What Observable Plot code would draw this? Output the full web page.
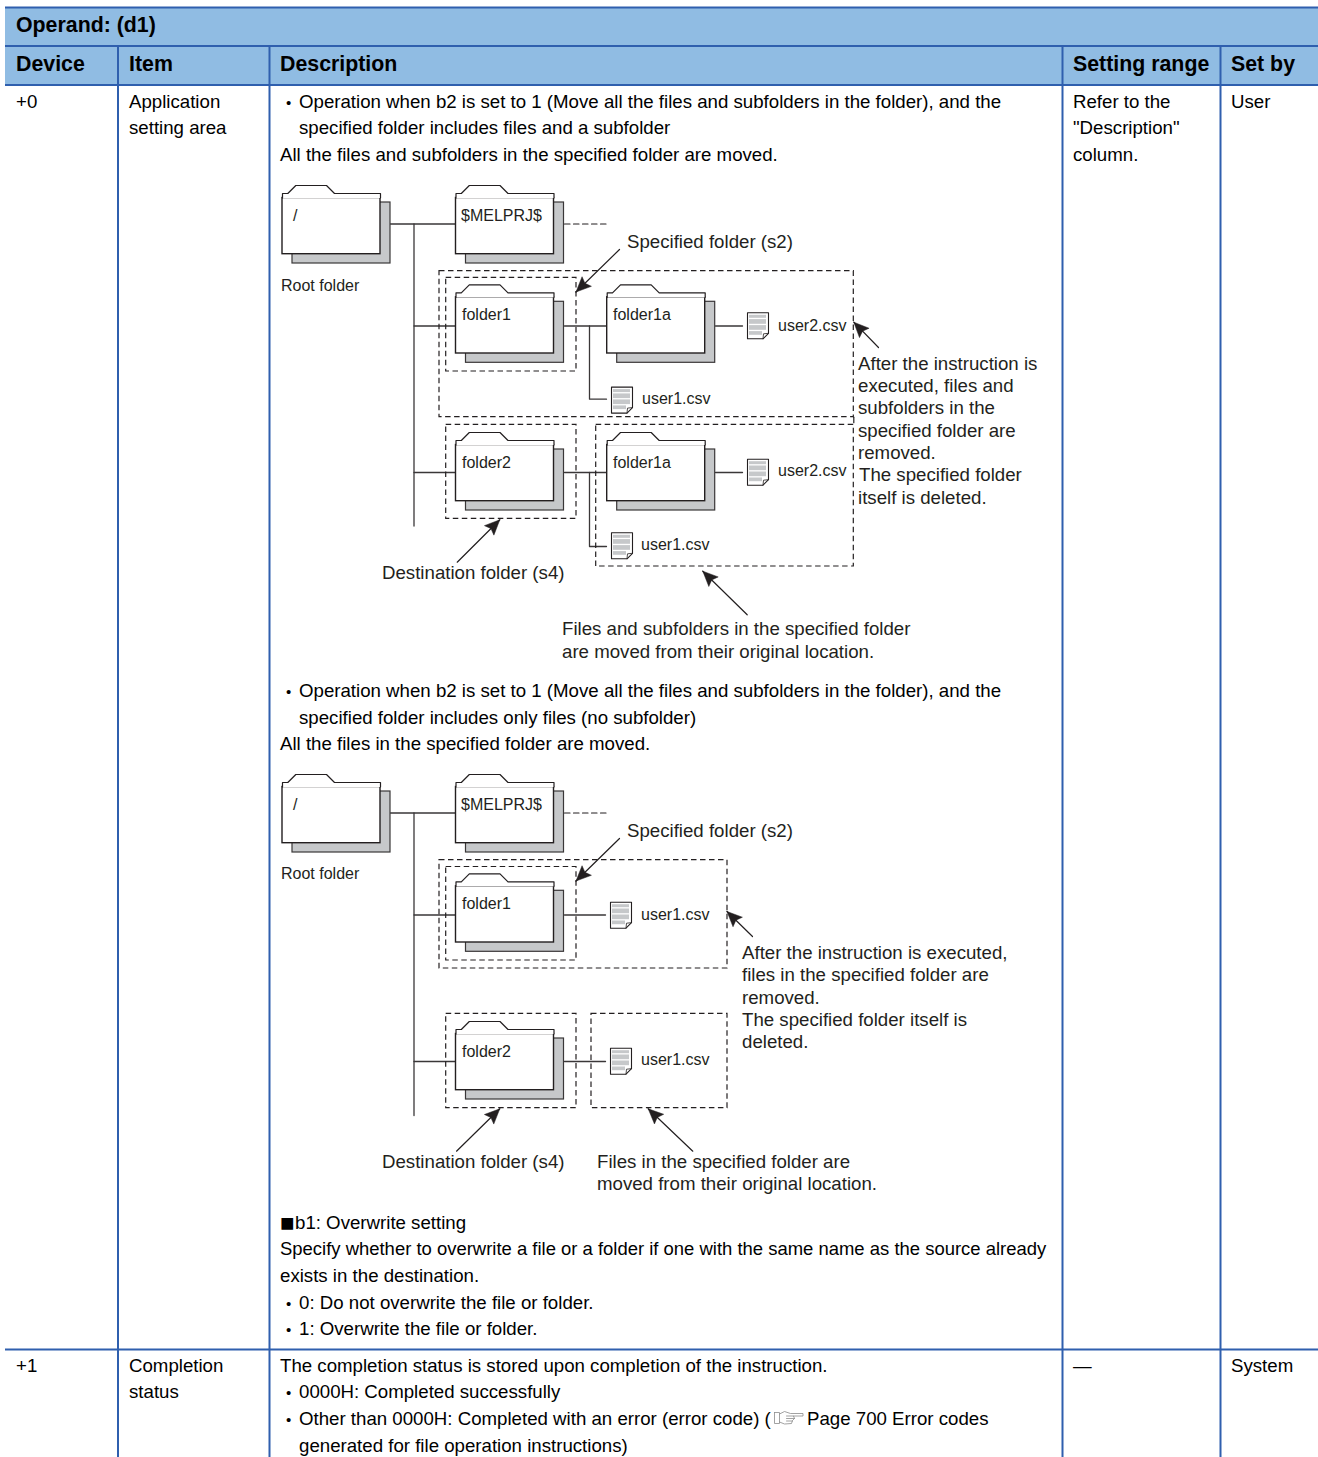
<!DOCTYPE html>
<html>
<head>
<meta charset="utf-8">
<script src="https://cdn.jsdelivr.net/npm/d3@7"></script>
<script src="https://cdn.jsdelivr.net/npm/@observablehq/plot@0.6"></script>
<style>html,body{margin:0;padding:0;background:#fff}svg{display:block}</style>
</head>
<body>
<div id="chart"></div>
<script>
// ---- content ----
const headerTitle = ["Operand: (d1)"];
const columnLabels = ["Device", "Item", "Description", "Setting range", "Set by"];
const deviceCells = ["+0", "+1"];
const itemCells = ["Application", "setting area", "Completion", "status"];
const rangeCells = ["Refer to the", "\"Description\"", "column.", "—"];
const setByCells = ["User", "System"];
const descriptionLines = [
  "Operation when b2 is set to 1 (Move all the files and subfolders in the folder), and the",
  "specified folder includes files and a subfolder",
  "All the files and subfolders in the specified folder are moved.",
  "Operation when b2 is set to 1 (Move all the files and subfolders in the folder), and the",
  "specified folder includes only files (no subfolder)",
  "All the files in the specified folder are moved.",
  "b1: Overwrite setting",
  "exists in the destination.",
  "0: Do not overwrite the file or folder.",
  "1: Overwrite the file or folder.",
  "The completion status is stored upon completion of the instruction.",
  "0000H: Completed successfully",
  "Other than 0000H: Completed with an error (error code) (",
  "Page 700 Error codes",
  "generated for file operation instructions)"
];
const longLine = ["Specify whether to overwrite a file or a folder if one with the same name as the source already"];
const squareMark = ["■"];
const annotationLines = [
  "Specified folder (s2)",
  "After the instruction is", "executed, files and", "subfolders in the", "specified folder are", "removed.",
  "The specified folder", "itself is deleted.",
  "Destination folder (s4)",
  "Files and subfolders in the specified folder", "are moved from their original location.",
  "Specified folder (s2)",
  "After the instruction is executed,", "files in the specified folder are", "removed.",
  "The specified folder itself is", "deleted.",
  "Destination folder (s4)",
  "Files in the specified folder are", "moved from their original location."
];
const folderNames = ["/", "$MELPRJ$", "folder1", "folder1a", "folder2", "folder1a", "/", "$MELPRJ$", "folder1", "folder2"];
const fileNames = ["user2.csv", "user1.csv", "user2.csv", "user1.csv", "user1.csv", "user1.csv"];
const plainLabels = ["Root folder", "Root folder"];

// ---- layout (positions, in page pixels) ----
const W = 1318, H = 1457;
const cols = [5, 117.5, 269, 1062, 1220, 1318];
const rowLines = [7, 45.5, 84.5, 1349];
const textX = {device: 16, item: 129, desc: 280, range: 1073, setBy: 1231};
const colLabelX = [16, 129, 280, 1073, 1231];
const itemY = [107.5, 134, 1372, 1398];
const rangeY = [107.5, 134, 160.5, 1372];
const descPos = [
  [299,107.5],[299,134],[280,160.5],[299,697],[299,723.5],[280,750],[295,1229],[280,1282],
  [299,1308.5],[299,1335],[280,1372],[299,1398],[299,1425],[807,1425],[299,1452]
];
const bulletPos = [[286,107.5],[286,697],[286,1308.5],[286,1335],[286,1398],[286,1425]];
const annPos = [
  [627,248],[858,369.5],[858,392],[858,414],[858,436.5],[858,458.5],[859,481],[858,503.5],[382,579],[562,635],[562,658],
  [627,837],[742,958.5],[742,981],[742,1003.5],[742,1025.5],[742,1047.5],[382,1168],[597,1167.5],[597,1190]
];
const folderPos = [[282,193],[455.5,193],[455.5,292.3],[606.7,292.3],[455.5,440],[606.7,440],[282,782],[455.5,782],[455.5,881.3],[455.5,1029]];
const folderLabelPos = [[293,220.7],[461,220.7],[462,320],[613,320],[462,467.3],[613,467.3],[293,809.7],[461,809.7],[462,909],[462,1056.3]];
const filePos = [[747,312.3],[611,386.6],[747,458.7],[611,532.3],[610,901.7],[610,1047.7]];
const fileLabelPos = [[778,331],[642,404],[778,476],[641,550],[641,920],[641,1065]];
const plainPos = [[281,291],[281,879]];
const wires = [
  [[390,223.5],[455,223.5]], [[413.5,223.5],[413.5,525.5]], [[413.5,325.5],[455,325.5]],
  [[564,325.5],[606,325.5]], [[589,325.5],[589,398.7],[606,398.7]], [[715,325.5],[742,325.5]],
  [[413.5,472],[455,472]], [[564,472],[606,472]], [[589,472],[589,546],[606,546]], [[715,472],[742,472]],
  [[390,812.5],[455,812.5]], [[413.5,812.5],[413.5,1115]], [[413.5,914.5],[455,914.5]], [[564,914.5],[605,914.5]],
  [[413.5,1061],[455,1061]], [[564,1061],[605,1061]]
];
const dashedWires = [[[564,223.5],[608,223.5]], [[564,812.5],[608,812.5]]];
const dashedBoxes = [
  [439,270.7,853.3,416.7],[445.7,277.3,576,371],[445.7,424.3,576,518.3],[595.7,424.3,853.3,566],
  [439,859.7,727,968],[445.7,866.5,576,960],[445.7,1013.3,576,1107.7],[591,1013.3,727,1107.7]
];
const extraDash = [[[853.3,416.7],[853.3,424.3]]];
const arrows = [
  [[619,249],[575.5,291.5]], [[878,347],[853.3,321.7]], [[456.7,561.7],[499.3,519.3]], [[746.7,614.3],[702.3,570.7]],
  [[619,838],[575.5,880.5]], [[752,936],[726.5,911]], [[456,1150.7],[499.3,1108.3]], [[692.3,1150.7],[647.7,1108.3]]
];
const pointer = [
  [[774,1412],[779,1412],[779,1423],[774,1423],[774,1412]],
  [[779,1413.5],[784,1411],[790,1413],[802.5,1413],[802.5,1415.5],[793,1415.5],[794,1418],[792,1420],[791,1423],[784,1423.5],[779,1421.5]],
  [[786,1415.5],[793,1415.5]], [[786,1418],[794,1418]], [[786,1420.5],[792,1420.5]]
];

// ---- helpers ----
const ink = "#231f20", grey = "#c6c8ca", blue = "#2f5fae", headFill = "#90bce3";
const zipText = (labels, pos) => labels.map((t, i) => ({t, x: pos[i][0], y: pos[i][1]}));
const poly = (pts, id) => pts.map(([x, y]) => ({x, y, id}));
const textMark = (rows, fontSize, fill = "#000", fontWeight = "normal") =>
  Plot.text(rows, {x: "x", y: "y", text: "t", textAnchor: "start", lineAnchor: "bottom", dx: -0.5, dy: -0.3, fontSize, fill, fontWeight});
const lineMark = (groups, opt) =>
  Plot.line(groups.flatMap((g, i) => poly(g, i)), {x: "x", y: "y", z: "id", curve: "linear", ...opt});

const shadows = folderPos.map(([x, y]) => ({x1: x + 10, x2: x + 108, y1: y + 9, y2: y + 70}));
const bodies = folderPos.map(([x, y]) => ({x1: x, x2: x + 98, y1: y + 4.5, y2: y + 60.7}));
const tabs = folderPos.map(([x, y]) => [[x, y + 4.5], [x, y], [x + 5.3, y], [x + 13.3, y - 8], [x + 44, y - 8], [x + 52, y], [x + 98, y], [x + 98, y + 4.5]]);
const filePages = filePos.map(([x, y]) => [[x, y], [x + 21, y], [x + 21, y + 20.5], [x + 15.5, y + 26], [x, y + 26], [x, y]]);
const fileFolds = filePos.map(([x, y]) => [[x + 21, y + 20.5], [x + 16, y + 21], [x + 15.5, y + 26]]);
const fileBands = filePos.flatMap(([x, y]) => [[2.5, 5.5], [6.8, 11.5], [12.8, 17.5], [18.8, 22.5]]
  .map(([a, b], i) => ({x1: x + 2, x2: x + (i === 3 ? 15 : 19), y1: y + a, y2: y + b})));
const heads = arrows.map(([tail, tip]) => {
  const dx = tip[0] - tail[0], dy = tip[1] - tail[1], n = Math.hypot(dx, dy), ux = dx / n, uy = dy / n;
  const bx = tip[0] - ux * 15, by = tip[1] - uy * 15;
  const nx = tip[0] - ux * 12.5, ny = tip[1] - uy * 12.5;
  return [tip, [bx - uy * 6.7, by + ux * 6.7], [nx, ny], [bx + uy * 6.7, by - ux * 6.7], tip];
});

const chart = Plot.plot({
  width: W, height: H, margin: 0,
  x: {domain: [0, W], range: [0, W], axis: null},
  y: {domain: [H, 0], range: [H, 0], axis: null},
  style: {fontFamily: "'Liberation Sans', Arial, sans-serif", background: "#fff"},
  marks: [
    // table frame
    Plot.rect([{x1: cols[0], x2: W, y1: rowLines[0], y2: rowLines[2]}], {x1: "x1", x2: "x2", y1: "y1", y2: "y2", fill: headFill}),
    Plot.ruleY(rowLines, {x1: cols[0], x2: W, stroke: blue, strokeWidth: 2}),
    Plot.ruleX(cols.slice(1, 5), {y1: rowLines[1], y2: H, stroke: blue, strokeWidth: 2}),
    // table text
    textMark(zipText(headerTitle, [[16, 31.5]]), 21.33, "#000", "bold"),
    textMark(zipText(columnLabels, colLabelX.map(x => [x, 70.5])), 21.33, "#000", "bold"),
    textMark(zipText(deviceCells, [[textX.device, 107.5], [textX.device, 1372]]), 18.67),
    textMark(zipText(itemCells, itemY.map(y => [textX.item, y])), 18.67),
    textMark(zipText(rangeCells, rangeY.map(y => [textX.range, y])), 18.67),
    textMark(zipText(setByCells, [[textX.setBy, 107.5], [textX.setBy, 1372]]), 18.67),
    textMark(zipText(descriptionLines, descPos), 18.67),
    textMark(zipText(longLine, [[280, 1255]]), 18.47),
    textMark(zipText(squareMark, [[280, 1231]]), 24),
    textMark(zipText(bulletPos.map(() => "•"), bulletPos), 15),
    // pointer icon
    lineMark(pointer, {stroke: "#8a8a8a", strokeWidth: 0.8}),
    // wires
    lineMark(wires, {stroke: "#3a3738", strokeWidth: 1.3}),
    lineMark(dashedWires.concat(extraDash), {stroke: ink, strokeWidth: 1.2, strokeDasharray: "5.5,3.5"}),
    // folders
    Plot.rect(shadows, {x1: "x1", x2: "x2", y1: "y1", y2: "y2", fill: grey, stroke: "#3a3738", strokeWidth: 1.2}),
    Plot.rect(bodies, {x1: "x1", x2: "x2", y1: "y1", y2: "y2", fill: "#fff", stroke: ink, strokeWidth: 1.4}),
    lineMark(tabs, {fill: "#fff", stroke: ink, strokeWidth: 1.2}),
    // files
    lineMark(filePages, {fill: "#fff", stroke: ink, strokeWidth: 1.1}),
    Plot.rect(fileBands, {x1: "x1", x2: "x2", y1: "y1", y2: "y2", fill: grey}),
    lineMark(fileFolds, {stroke: ink, strokeWidth: 0.8}),
    // dashed frames
    Plot.rect(dashedBoxes.map(([x1, y1, x2, y2]) => ({x1, y1, x2, y2})),
      {x1: "x1", x2: "x2", y1: "y1", y2: "y2", fill: "none", stroke: ink, strokeWidth: 1.2, strokeDasharray: "5.5,3.5"}),
    // arrows
    lineMark(arrows, {stroke: ink, strokeWidth: 1.2}),
    lineMark(heads, {fill: ink, stroke: ink, strokeWidth: 0.5}),
    // diagram text
    textMark(zipText(folderNames, folderLabelPos), 16, ink),
    textMark(zipText(fileNames, fileLabelPos), 16, ink),
    textMark(zipText(plainLabels, plainPos), 16, ink),
    textMark(zipText(annotationLines, annPos), 18.67, ink)
  ]
});
document.getElementById("chart").appendChild(chart);
</script>
</body>
</html>
